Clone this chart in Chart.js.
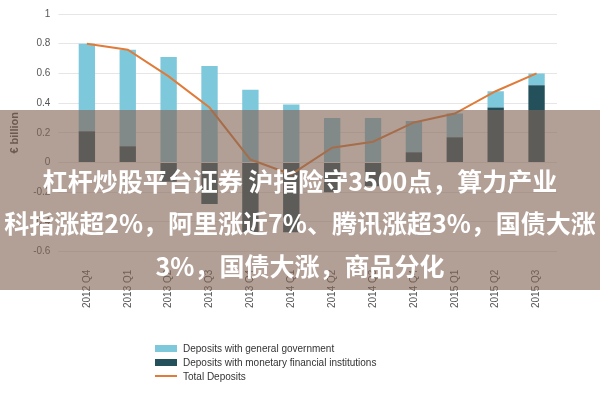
<!DOCTYPE html>
<html><head><meta charset="utf-8">
<script src="https://cdn.jsdelivr.net/npm/chart.js@4"></script>
<style>
body{margin:0;width:600px;height:400px;position:relative;overflow:hidden;background:#fff;font-family:"Noto Sans CJK SC","Noto Sans",sans-serif}
#c{position:absolute;left:0;top:0}
#legend{position:absolute;left:155px;top:341px;font:10px "Liberation Sans",Arial,sans-serif;color:#333}
#legend div{height:14px;display:flex;align-items:center}
#legend span.b{display:inline-block;width:22px;height:7px;margin-right:6px}
#band{position:absolute;left:0;top:110px;width:600px;height:180px;background:rgba(130,100,85,0.62);overflow:hidden}
#band p{margin:0;position:absolute;width:900px;left:-150px;text-align:center;color:#fff;font-weight:bold;font-size:25px;white-space:nowrap}
</style></head><body>
<canvas id="c" width="600" height="400"></canvas>
<div id="legend">
<div><span class="b" style="background:#7ec8dc"></span>Deposits with general government</div>
<div><span class="b" style="background:#24505c"></span>Deposits with monetary financial institutions</div>
<div><span class="b" style="background:#e07b39;height:2px"></span>Total Deposits</div>
</div>
<div id="band">
<p style="top:52px">杠杆炒股平台证券 沪指险守3500点，算力产业</p>
<p style="top:94px">科指涨超2%，阿里涨近7%、腾讯涨超3%，国债大涨</p>
<p style="top:137px">3%，国债大涨，商品分化</p>
</div>
<script>
const categories=["2012 Q4","2013 Q1","2013 Q2","2013 Q3","2013 Q4","2014 Q1","2014 Q2","2014 Q3","2014 Q4","2015 Q1","2015 Q2","2015 Q3"];
const govDeposits=[0.59,0.65,0.71,0.65,0.49,0.39,0.30,0.30,0.21,0.16,0.11,0.08];
const mfiDeposits=[0.21,0.11,-0.13,-0.28,-0.47,-0.47,-0.20,-0.16,0.07,0.17,0.37,0.52];
const totalDeposits=[0.80,0.76,0.58,0.37,0.02,-0.08,0.10,0.14,0.27,0.33,0.48,0.60];
const yTicks=[1,0.8,0.6,0.4,0.2,0,-0.2,-0.4,-0.6];
new Chart(document.getElementById('c'),{
 data:{labels:categories,datasets:[
  {type:'line',label:'Total Deposits',data:totalDeposits,borderColor:'#e07b39',borderWidth:2,pointRadius:0,tension:0,order:0},
  {type:'bar',label:'Deposits with monetary financial institutions',data:mfiDeposits,backgroundColor:'#24505c',barPercentage:0.4,categoryPercentage:1,stack:'s',order:1},
  {type:'bar',label:'Deposits with general government',data:govDeposits,backgroundColor:'#7ec8dc',barPercentage:0.4,categoryPercentage:1,stack:'s',order:2}
 ]},
 options:{responsive:false,animation:false,
  layout:{padding:{left:4,right:43,top:7,bottom:82}},
  plugins:{legend:{display:false},tooltip:{enabled:false}},
  scales:{
   x:{stacked:true,grid:{display:false},border:{display:false},ticks:{minRotation:90,maxRotation:90,color:'#555',font:{size:10},padding:10}},
   y:{stacked:true,min:-0.6,max:1,afterBuildTicks:a=>{a.ticks=yTicks.map(v=>({value:v}))},
      grid:{color:'#e6e6e6'},border:{display:false},
      ticks:{color:'#555',font:{size:10},padding:8,callback:v=>String(v)},
      title:{display:true,text:'€ billion',color:'#444',font:{size:11,weight:'bold'}}}
  }}
});
</script>
</body></html>
